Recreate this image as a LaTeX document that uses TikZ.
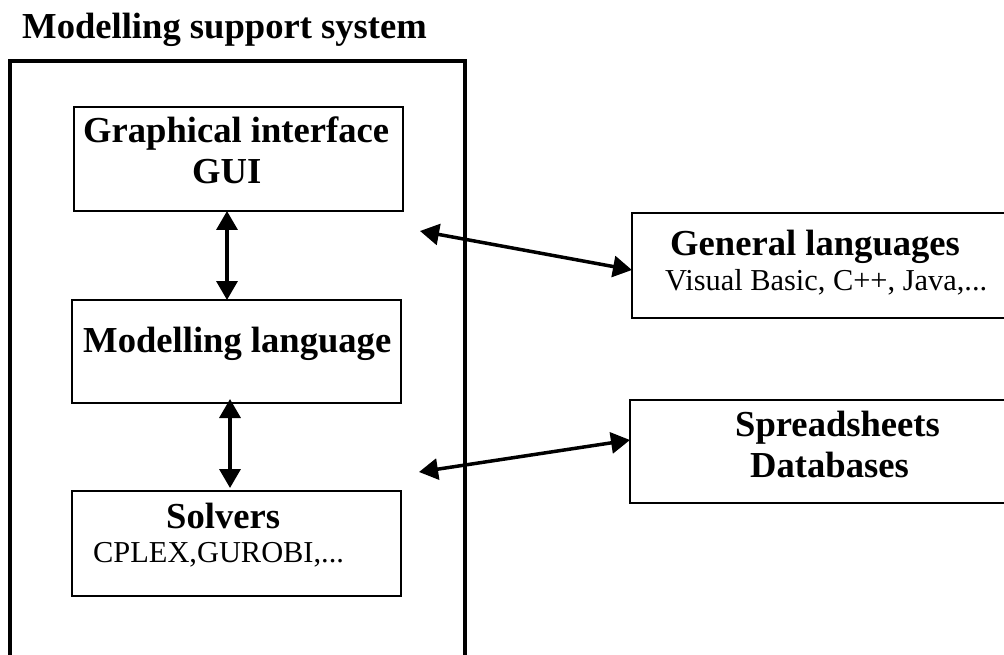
\documentclass[tikz,border=0pt]{standalone}
\usepackage{fontspec}
\setmainfont{Liberation Serif}
\usetikzlibrary{arrows.meta}
\begin{document}
\begin{tikzpicture}[x=1pt,y=-1pt,
  box/.style={draw,line width=1.6pt,rectangle,inner sep=0pt,outer sep=0pt},
  btxt/.style={anchor=base west,inner sep=0pt,font=\fontsize{36.6}{40}\selectfont\bfseries},
  rtxt/.style={anchor=base west,inner sep=0pt,font=\fontsize{30.4}{34}\selectfont},
  dbl/.style={line width=3.5pt,{Triangle[length=19pt,width=21pt]}-{Triangle[length=19pt,width=21pt]}}]
\useasboundingbox (0,0) rectangle (1004,655);
\clip (0,0) rectangle (1004,655);
\fill[white] (0,0) rectangle (1004,655);
% outer container
\node[draw,line width=4pt,rectangle,inner sep=0pt,outer sep=0pt,minimum width=455pt,minimum height=640pt] (mss) at (237.5,381) {};
% boxes
\node[box,minimum width=329pt,minimum height=104pt] (gui) at (238.5,159) {};
\node[box,minimum width=329pt,minimum height=103pt] (ml) at (236.5,351.5) {};
\node[box,minimum width=329pt,minimum height=105pt] (sol) at (236.5,543.5) {};
\node[box,minimum width=388pt,minimum height=105pt] (gl) at (826,265.5) {};
\node[box,minimum width=390pt,minimum height=103pt] (sd) at (825,451.5) {};
% texts
\node[btxt] (title) at (22,39) {Modelling support system};
\node[btxt] (t1) at (83,143) {Graphical interface};
\node[btxt] (t2) at (192,184) {GUI};
\node[btxt] (t3) at (83,352) {Modelling language};
\node[btxt] (t4) at (166,528) {Solvers};
\node[rtxt] (t5) at (93,562) {CPLEX,GUROBI,...};
\node[btxt] (t6) at (670,255) {General languages};
\node[rtxt] (t7) at (665,290) {Visual Basic, C++, Java,...};
\node[btxt] (t8) at (735,436) {Spreadsheets};
\node[btxt] (t9) at (750,477) {Databases};
% connectors
\coordinate (a1) at (420,231);
\coordinate (a2) at (419,472);
\draw[dbl] ([xshift=-11.5pt]gui.south) -- ([xshift=-9.5pt]ml.north);
\draw[dbl] ([xshift=-6.5pt,yshift=4pt]ml.south) -- ([xshift=-6.5pt,yshift=3pt]sol.north);
\draw[dbl] (a1) -- ([yshift=-4.5pt]gl.west);
\draw[dbl] (a2) -- ([yshift=11.5pt]sd.west);
\end{tikzpicture}
\end{document}
